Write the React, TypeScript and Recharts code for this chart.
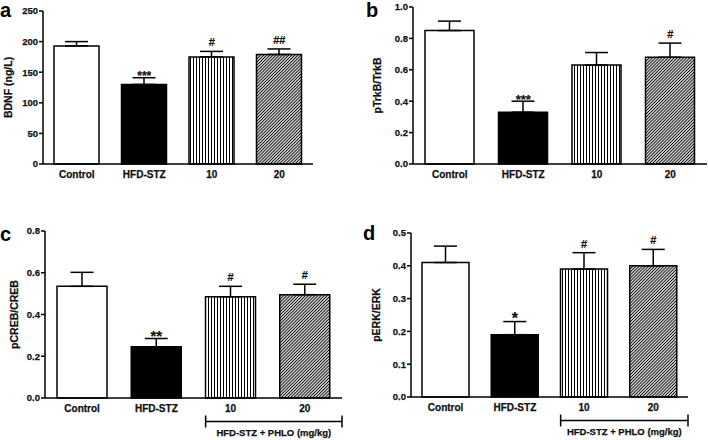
import React from 'react';
import { ComposedChart, Bar, Cell, ErrorBar, Line, XAxis, YAxis } from 'recharts';

const categories = ['Control', 'HFD-STZ', '10', '20'];

const bdnfMean = [193, 130, 175, 179];
const bdnfSem = [7, 11, 9, 9];
const bdnfMarks = ['', '***', '#', '##'];
const bdnfTicks = [0, 50, 100, 150, 200, 250];

const trkbMean = [0.85, 0.33, 0.63, 0.68];
const trkbSem = [0.06, 0.07, 0.08, 0.09];
const trkbMarks = ['', '***', '', '#'];
const trkbTicks = [0, 0.2, 0.4, 0.6, 0.8, 1.0];

const crebMean = [0.535, 0.245, 0.485, 0.495];
const crebSem = [0.067, 0.04, 0.05, 0.05];
const crebMarks = ['', '**', '#', '#'];
const crebTicks = [0, 0.2, 0.4, 0.6, 0.8];

const erkMean = [0.41, 0.19, 0.39, 0.4];
const erkSem = [0.05, 0.04, 0.05, 0.05];
const erkMarks = ['', '*', '#', '#'];
const erkTicks = [0, 0.1, 0.2, 0.3, 0.4, 0.5];

const groupLabel = 'HFD-STZ + PHLO (mg/kg)';

const FONT = "'Liberation Sans', Arial, Helvetica, sans-serif";
const INK = '#111';
const W = 354;
const H = 220;

type PanelProps = {
  id: string;
  left: number;
  top: number;
  values: number[];
  sems: number[];
  marks: string[];
  ticks: number[];
  decimals: number;
  yLabel: string;
  yLabelX: number;
  margin: { top: number; right: number; bottom: number; left: number };
  yAxisWidth: number;
  barSize: number;
  bracket: boolean;
  starSize: number;
};

function Panel(p: PanelProps) {
  const data = categories.map((name, i) => ({
    name,
    value: p.values[i],
    err: [0, p.sems[i]],
    top: p.values[i] + p.sems[i],
    mark: p.marks[i],
  }));
  const plotW = W - p.margin.left - p.margin.right - p.yAxisWidth;
  const band = plotW / categories.length;
  const fills = ['#ffffff', '#000000', `url(#vs-${p.id})`, `url(#dh-${p.id})`];
  const domainMax = p.ticks[p.ticks.length - 1];

  const renderXTick = (props: any) => {
    const { x, y, payload, index } = props;
    const els: any[] = [
      <text key="t" x={x} y={y + 14} textAnchor="middle" fontFamily={FONT} fontWeight="bold" fontSize={10} fill={INK} stroke={INK} strokeWidth={0.25}>
        {payload.value}
      </text>,
    ];
    if (p.bracket && index === 2) {
      const x0 = x - p.barSize / 2;
      const x1 = x + 1.5 * band;
      const by = y + 23.5;
      els.push(
        <g key="b" stroke="#000" strokeWidth={1.5}>
          <line x1={x0} x2={x1} y1={by} y2={by} />
          <line x1={x0} x2={x0} y1={by - 6} y2={by + 6} />
          <line x1={x1} x2={x1} y1={by - 6} y2={by + 6} />
        </g>
      );
      els.push(
        <text key="g" x={(x0 + x1) / 2} y={y + 37.5} textAnchor="middle" fontFamily={FONT} fontWeight="bold" fontSize={9.5} fill={INK} stroke={INK} strokeWidth={0.25}>
          {groupLabel}
        </text>
      );
    }
    return <g>{els}</g>;
  };

  const renderYTick = (props: any) => {
    const { x, y, payload } = props;
    return (
      <text x={x} y={y} dy={3.3} textAnchor="end" fontFamily={FONT} fontWeight="bold" fontSize={9.5} fill={INK} stroke={INK} strokeWidth={0.25}>
        {Number(payload.value).toFixed(p.decimals)}
      </text>
    );
  };

  const renderMark = (props: any) => {
    const { x, y, index } = props;
    const m = p.marks[index];
    if (!m) return null;
    const isStar = m.includes('*');
    return (
      <text
        x={x}
        y={isStar ? y + 2.5 : y - 5}
        textAnchor="middle"
        fontFamily={FONT}
        fontWeight="bold"
        fontSize={isStar ? p.starSize : 11}
        fill={INK}
        stroke={INK}
        strokeWidth={0.2}
      >
        {m}
      </text>
    );
  };

  return (
    <div style={{ position: 'absolute', left: p.left, top: p.top, width: W, height: H }}>
      <ComposedChart width={W} height={H} data={data} margin={p.margin}>
        <defs>
          <pattern id={`vs-${p.id}`} patternUnits="userSpaceOnUse" width={3} height={3}>
            <rect width={3} height={3} fill="#fff" />
            <line x1={1.5} y1={0} x2={1.5} y2={3} stroke="#000" strokeWidth={1} />
          </pattern>
          <pattern id={`dh-${p.id}`} patternUnits="userSpaceOnUse" width={2.2} height={2.2} patternTransform="rotate(45)">
            <rect width={2.2} height={2.2} fill="#fff" />
            <line x1={1.1} y1={0} x2={1.1} y2={2.2} stroke="#000" strokeWidth={1.05} />
          </pattern>
        </defs>
        <XAxis
          dataKey="name"
          type="category"
          interval={0}
          height={30}
          tickLine={false}
          tickSize={0}
          tickMargin={0}
          axisLine={{ stroke: '#000', strokeWidth: 1.5 }}
          tick={renderXTick}
        />
        <YAxis
          type="number"
          domain={[0, domainMax]}
          ticks={p.ticks}
          interval={0}
          width={p.yAxisWidth}
          tickSize={4}
          tickMargin={1}
          axisLine={{ stroke: '#000', strokeWidth: 1.5 }}
          tickLine={{ stroke: '#000', strokeWidth: 1.5 }}
          tick={renderYTick}
          label={{
            content: (lp: any) => {
              const vb = lp.viewBox || {};
              const cx = p.yLabelX;
              const cy = (vb.y ?? 0) + (vb.height ?? 0) / 2;
              return (
                <text
                  x={cx}
                  y={cy}
                  transform={`rotate(-90, ${cx}, ${cy})`}
                  textAnchor="middle"
                  dominantBaseline="central"
                  fontFamily={FONT}
                  fontWeight="bold"
                  fontSize={10.5}
                  fill={INK}
                  stroke={INK}
                  strokeWidth={0.25}
                >
                  {p.yLabel}
                </text>
              );
            },
          }}
        />
        <Bar dataKey="value" barSize={p.barSize} stroke="#000" strokeWidth={1.5} isAnimationActive={false}>
          {data.map((d, i) => (
            <Cell key={d.name} fill={fills[i]} />
          ))}
          <ErrorBar dataKey="err" direction="y" width={11.5} stroke="#000" strokeWidth={1.5} isAnimationActive={false} />
        </Bar>
        <Line
          dataKey="top"
          stroke="none"
          dot={false}
          activeDot={false}
          isAnimationActive={false}
          label={renderMark}
        />
      </ComposedChart>
    </div>
  );
}

export default function App() {
  return (
    <div style={{ position: 'absolute', left: 0, top: 0, width: 708, height: 440, background: '#fff', overflow: 'hidden' }}>
      <Panel
        id="a" left={0} top={0}
        values={bdnfMean} sems={bdnfSem} marks={bdnfMarks} ticks={bdnfTicks} decimals={0}
        yLabel="BDNF (ng/L)" yLabelX={8}
        margin={{ top: 11, right: 41, bottom: 26, left: 0 }} yAxisWidth={43} barSize={45}
        bracket={false} starSize={12}
      />
      <Panel
        id="b" left={354} top={0}
        values={trkbMean} sems={trkbSem} marks={trkbMarks} ticks={trkbTicks} decimals={1}
        yLabel="pTrkB/TrkB" yLabelX={22.5}
        margin={{ top: 7, right: 1, bottom: 26, left: 0 }} yAxisWidth={59} barSize={49}
        bracket={false} starSize={13}
      />
      <Panel
        id="c" left={0} top={220}
        values={crebMean} sems={crebSem} marks={crebMarks} ticks={crebTicks} decimals={1}
        yLabel="pCREB/CREB" yLabelX={14}
        margin={{ top: 11, right: 12, bottom: 12, left: 0 }} yAxisWidth={45} barSize={50}
        bracket={true} starSize={15}
      />
      <Panel
        id="d" left={354} top={220}
        values={erkMean} sems={erkSem} marks={erkMarks} ticks={erkTicks} decimals={1}
        yLabel="pERK/ERK" yLabelX={22}
        margin={{ top: 13, right: 20, bottom: 13, left: 0 }} yAxisWidth={57} barSize={47}
        bracket={true} starSize={16}
      />
      <svg width={708} height={440} style={{ position: 'absolute', left: 0, top: 0, pointerEvents: 'none' }}>
        <g fontFamily={FONT} fontWeight="bold" fontSize={20} fill="#000">
          <text x={0} y={17}>a</text>
          <text x={366} y={17}>b</text>
          <text x={0} y={241}>c</text>
          <text x={363} y={240}>d</text>
        </g>
      </svg>
    </div>
  );
}
